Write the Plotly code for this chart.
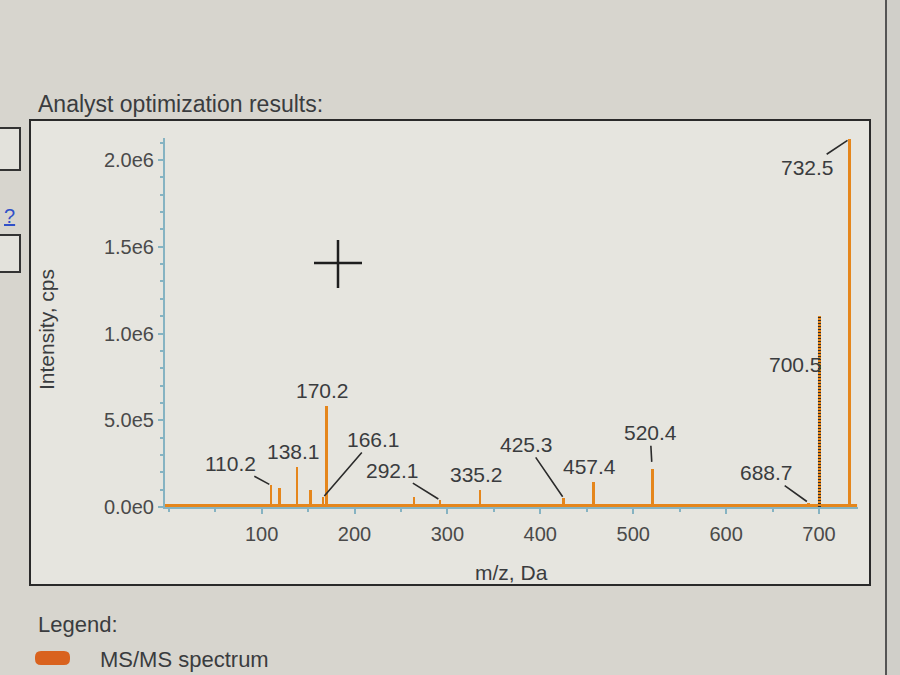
import plotly.graph_objects as go

# peaks (m/z, intensity in cps)
mz = [110.2, 119.1, 138.1, 153.0, 166.1, 170.2, 181.0, 194.0, 264.1, 292.1,
      312.0, 335.2, 425.3, 457.4, 520.4, 622.0, 651.0, 676.0, 688.7, 732.5]
intensity = [1.25e5, 1.1e5, 2.3e5, 1.0e5, 5.5e4, 5.8e5, 1.5e4, 1.2e4, 5.5e4, 4.0e4,
             1.0e4, 1.0e5, 5.0e4, 1.45e5, 2.2e5, 1.0e4, 1.2e4, 1.0e4, 2.5e4, 2.12e6]

# precursor drawn dotted
prec_mz = [700.5]
prec_int = [1.1e6]

y_ticks = [0, 5e5, 1e6, 1.5e6, 2e6]
y_tick_text = ['0.0e0', '5.0e5', '1.0e6', '1.5e6', '2.0e6']
x_ticks = [100, 200, 300, 400, 500, 600, 700]

# label text and offsets (ax, ay in px; None = no connector)
labels = [
    (110.2, 1.25e5, '110.2', -41, -22),
    (138.1, 2.3e5, '138.1', None, None),
    (170.2, 5.8e5, '170.2', None, None),
    (166.1, 5.5e4, '166.1', 50, -58),
    (292.1, 4.0e4, '292.1', -48, -30),
    (335.2, 1.0e5, '335.2', None, None),
    (425.3, 5.0e4, '425.3', -37, -54),
    (457.4, 1.45e5, '457.4', None, None),
    (520.4, 2.2e5, '520.4', -2, -36),
    (688.7, 2.5e4, '688.7', -42, -30),
    (732.5, 2.12e6, '732.5', -42, 28),
]

W, H = 900, 675
L, R, T, B = 165, 858, 138, 507
ORANGE = '#e5861c'
AXIS = '#86b3c2'
TXT = '#3a3c3e'
FONT = 'Liberation Sans, Arial, sans-serif'


def px(x):
    return (x - L) / (R - L)


def py(y):
    return (B - y) / (B - T)


fig = go.Figure()

# baseline noise
fig.add_trace(go.Scatter(x=[-4, 741], y=[9e3, 9e3], mode='lines',
                         line=dict(color=ORANGE, width=3), hoverinfo='skip'))

fig.add_trace(go.Bar(x=mz, y=intensity, width=3.0, marker_color=ORANGE,
                     marker_line_width=0))

fig.add_trace(go.Bar(x=prec_mz, y=prec_int, width=3.4, marker_color=ORANGE,
                     marker_line_width=0))
fig.add_trace(go.Scatter(x=prec_mz * 2, y=[0, prec_int[0]], mode='lines',
                         line=dict(color='#2b2b2b', width=3, dash='1px,2px'),
                         hoverinfo='skip'))

annotations = []
for x, y, t, ax, ay in labels:
    a = dict(x=x, y=y, text=t, font=dict(family=FONT, size=21, color=TXT))
    if ax is None:
        a.update(showarrow=False, yanchor='bottom', yshift=2, xshift=-4)
    else:
        a.update(showarrow=True, arrowhead=0, arrowwidth=1.6, arrowcolor='#2b2b2b',
                 ax=ax, ay=ay, standoff=7 if t == '520.4' else 2)
    annotations.append(a)

annotations.append(dict(x=700.5, y=8.2e5, text='700.5', showarrow=False, xshift=-24,
                        font=dict(family=FONT, size=21, color=TXT)))


def page_text(x, y, t, size, **kw):
    d = dict(xref='paper', yref='paper', x=px(x), y=py(y), text=t, showarrow=False,
             xanchor='left', yanchor='middle', font=dict(family=FONT, size=size, color=TXT))
    d.update(kw)
    return d


annotations += [
    page_text(36, 104, 'Analyst optimization results:', 23),
    page_text(46, 330, 'Intensity, cps', 21, textangle=-90, xanchor='center'),
    page_text(512, 572, 'm/z, Da', 21, xanchor='center'),
    page_text(36, 624, 'Legend:', 22),
    page_text(98, 659, 'MS/MS spectrum', 22),
    page_text(2, 216, '<u>?</u>', 20, font=dict(family=FONT, size=20, color='#3050c8')),
]


def rect(x0, y0, x1, y1, **kw):
    return dict(type='rect', xref='paper', yref='paper', x0=px(x0), x1=px(x1),
                y0=py(y1), y1=py(y0), layer='below', **kw)


def line(x0, y0, x1, y1, **kw):
    return dict(type='line', xref='paper', yref='paper', x0=px(x0), x1=px(x1),
                y0=py(y0), y1=py(y1), **kw)


def pill(x0, y0, x1, y1, r):
    pts = (f'M {px(x0 + r)} {py(y0)} L {px(x1 - r)} {py(y0)} '
           f'Q {px(x1)} {py(y0)} {px(x1)} {py(y0 + r)} L {px(x1)} {py(y1 - r)} '
           f'Q {px(x1)} {py(y1)} {px(x1 - r)} {py(y1)} L {px(x0 + r)} {py(y1)} '
           f'Q {px(x0)} {py(y1)} {px(x0)} {py(y1 - r)} L {px(x0)} {py(y0 + r)} '
           f'Q {px(x0)} {py(y0)} {px(x0 + r)} {py(y0)} Z')
    return dict(type='path', xref='paper', yref='paper', path=pts,
                fillcolor='#d9621e', line=dict(width=0))


shapes = [
    rect(30, 120, 870, 585, fillcolor='#e6e5df', line=dict(color='#2a2a2a', width=2)),
    rect(-5, 128, 20, 170, fillcolor='#e3e2dc', line=dict(color='#333', width=2)),
    rect(-5, 235, 20, 272, fillcolor='#e3e2dc', line=dict(color='#333', width=2)),
    rect(886, -5, 905, 680, fillcolor='#d0cfc9', line=dict(color='#555', width=2)),
    pill(35, 651, 70, 665, 6),
    # cursor
    line(314, 263, 362, 263, line=dict(color='#1e1e1e', width=2.5)),
    line(338, 240, 338, 288, line=dict(color='#1e1e1e', width=2.5)),
]

fig.update_layout(
    width=W, height=H,
    margin=dict(l=L, r=W - R, t=T, b=H - B),
    paper_bgcolor='#d7d5ce',
    plot_bgcolor='#e6e5df',
    showlegend=False,
    bargap=0,
    annotations=annotations,
    shapes=shapes,
    xaxis=dict(range=[-4, 742], tickvals=x_ticks, showgrid=False, zeroline=False,
               showline=True, linecolor=AXIS, linewidth=2, ticks='outside', ticklen=5,
               tickcolor=AXIS, tickwidth=2, ticklabelstandoff=3,
               minor=dict(dtick=50, ticks='outside', ticklen=3, tickcolor=AXIS),
               tickfont=dict(family=FONT, size=20, color='#4a4a4a')),
    yaxis=dict(range=[0, 2.127e6], tickvals=y_ticks, ticktext=y_tick_text, showgrid=False,
               zeroline=False, showline=True, linecolor=AXIS, linewidth=2, ticks='outside',
               ticklen=5, tickcolor=AXIS, tickwidth=2,
               minor=dict(dtick=1e5, ticks='outside', ticklen=3, tickcolor=AXIS),
               tickfont=dict(family=FONT, size=20, color='#4a4a4a')),
)

fig.write_html("out.html", config={'displayModeBar': False},
               post_script="document.body.style.margin='0';")
